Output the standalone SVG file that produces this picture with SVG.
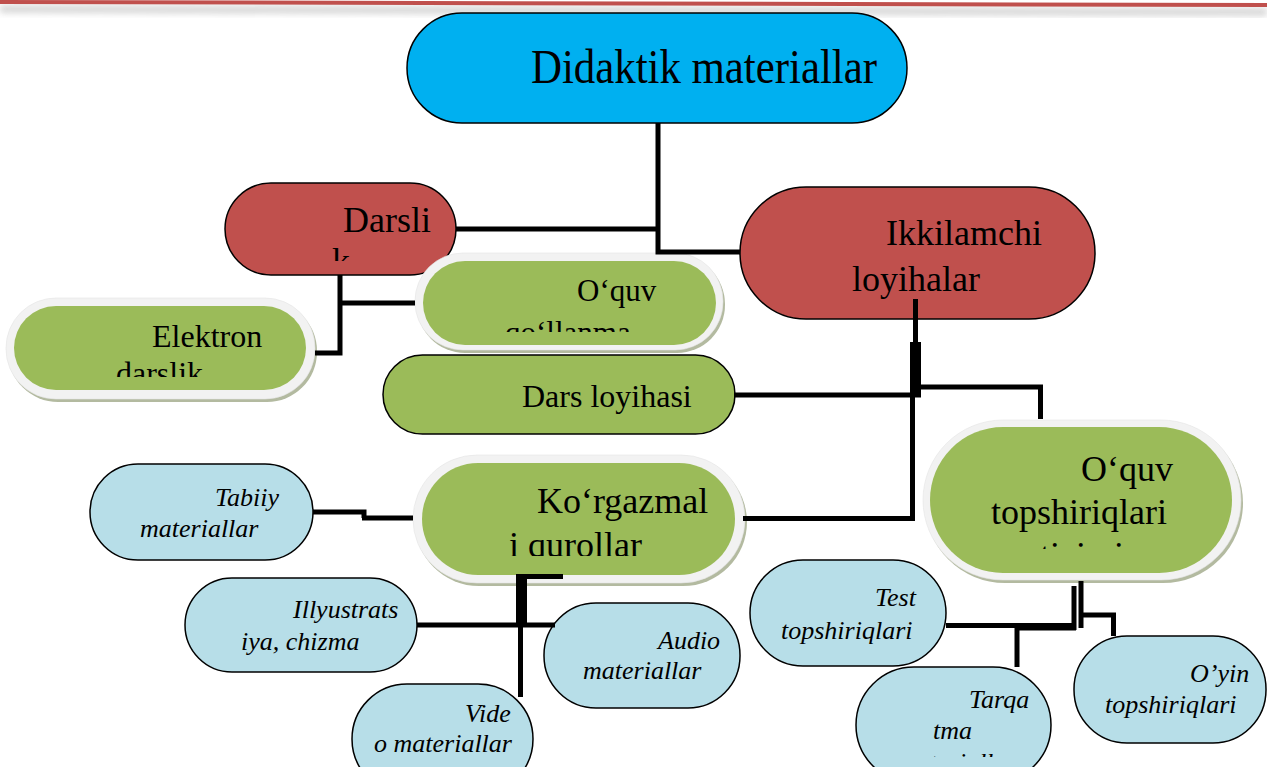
<svg xmlns="http://www.w3.org/2000/svg" width="1267" height="767" viewBox="0 0 1267 767">
<defs>
<style>
.t{font-family:"Liberation Serif","Times New Roman",serif;fill:#000}
.n{font-size:36px}
.i{font-size:26px;font-style:italic}
.plain{stroke:#000;stroke-width:1.5}
.blue{fill:#B7DEE8}
.red{fill:#C0504D}
.green{fill:#9BBB59}
.sh{fill:#B3BAA0}
.ring{fill:#F2F2F2;stroke:#E4E4E4;stroke-width:0.6}
.c{fill:none;stroke:#000;stroke-width:5;stroke-linejoin:miter}
</style>
<filter id="blur" x="-5%" y="-200%" width="110%" height="500%"><feGaussianBlur stdDeviation="3"/></filter>
<clipPath id="cDars"><rect x="225" y="183" width="231" height="78"/></clipPath>
<clipPath id="cElek"><rect x="6" y="298" width="309" height="79"/></clipPath>
<clipPath id="cQoll"><rect x="415" y="253" width="308" height="79"/></clipPath>
<clipPath id="cKorg"><rect x="413" y="455" width="332" height="101"/></clipPath>
<clipPath id="cTops"><rect x="923" y="420" width="318" height="129"/></clipPath>
<clipPath id="cTarq"><rect x="856" y="667" width="195" height="90"/></clipPath>
</defs>

<g id="topline">
<path d="M0,9 L1267,12" stroke="#BDBDBD" stroke-width="8" opacity="0.6" filter="url(#blur)"/>
<path d="M0,2 L1267,5" stroke="#C0504D" stroke-width="4"/>
</g>

<g id="node-didaktik">
<rect x="407" y="13" width="500" height="110" rx="55" fill="#00B0F0" class="plain"/>
<text class="t" x="531" y="83" font-size="48" textLength="346" lengthAdjust="spacingAndGlyphs">Didaktik materiallar</text>
</g>

<g id="node-darslik">
<rect x="225" y="183" width="231" height="92" rx="46" class="red plain"/>
<g clip-path="url(#cDars)">
<text class="t n" x="343" y="232">Darsli</text>
<text class="t n" x="332" y="273">k</text>
</g>
</g>

<g id="node-ikkilamchi">
<rect x="740" y="187" width="355" height="132" rx="66" class="red plain"/>
<text class="t n" x="886" y="245">Ikkilamchi</text>
<text class="t n" x="852" y="291">loyihalar</text>
</g>

<g id="node-elektron">
<rect x="8" y="301" width="309" height="101" rx="50" class="sh"/>
<rect x="6" y="298" width="309" height="101" rx="50" class="ring"/>
<rect x="14" y="306" width="292" height="84" rx="42" class="green"/>
<g clip-path="url(#cElek)">
<text class="t" font-size="32" x="152" y="347">Elektron</text>
<text class="t" font-size="32" x="116" y="384">darslik</text>
</g>
</g>

<g id="node-qollanma">
<rect x="417" y="256" width="308" height="97" rx="48" class="sh"/>
<rect x="415" y="253" width="308" height="97" rx="48" class="ring"/>
<rect x="423" y="261" width="293" height="84" rx="42" class="green"/>
<g clip-path="url(#cQoll)">
<text class="t" font-size="31" x="577" y="301">O‘quv</text>
<text class="t" font-size="31" x="505" y="343">qo‘llanma</text>
</g>
</g>

<g id="node-darsloyihasi">
<rect x="383" y="355" width="352" height="79" rx="39.5" class="green plain"/>
<text class="t" font-size="32" x="522" y="407">Dars loyihasi</text>
</g>

<g id="node-korgazmali">
<rect x="415" y="458" width="332" height="128" rx="64" class="sh"/>
<rect x="413" y="455" width="332" height="128" rx="64" class="ring"/>
<rect x="422" y="463" width="313" height="112" rx="56" class="green"/>
<g clip-path="url(#cKorg)">
<text class="t n" x="537" y="513">Ko‘rgazmal</text>
<text class="t n" x="509" y="557">i qurollar</text>
</g>
</g>

<g id="node-topshiriqlari">
<rect x="925" y="423" width="318" height="160" rx="80" class="sh"/>
<rect x="923" y="420" width="318" height="160" rx="80" class="ring"/>
<rect x="930" y="427" width="302" height="146" rx="73" class="green"/>
<g clip-path="url(#cTops)">
<text class="t n" x="1081" y="481">O‘quv</text>
<text class="t n" x="991" y="524">topshiriqlari</text>
<text class="t n" x="1040" y="567">tizimi</text>
</g>
</g>

<g id="node-tabiiy">
<rect x="90" y="464" width="223" height="96" rx="48" class="blue plain"/>
<text class="t i" x="215" y="506">Tabiiy</text>
<text class="t i" x="140" y="537">materiallar</text>
</g>

<g id="node-illyustratsiya">
<rect x="185" y="578" width="232" height="94" rx="47" class="blue plain"/>
<text class="t i" x="293" y="618">Illyustrats</text>
<text class="t i" x="241" y="650">iya, chizma</text>
</g>

<g id="node-video">
<rect x="352" y="684" width="181" height="110" rx="55" class="blue plain"/>
<text class="t i" x="465" y="722">Vide</text>
<text class="t i" x="374" y="752">o materiallar</text>
</g>

<g id="node-audio">
<rect x="544" y="603" width="196" height="105" rx="52" class="blue plain"/>
<text class="t i" x="658" y="649">Audio</text>
<text class="t i" x="583" y="679">materiallar</text>
</g>

<g id="node-test">
<rect x="750" y="560" width="196" height="106" rx="53" class="blue plain"/>
<text class="t i" x="875" y="606">Test</text>
<text class="t i" x="781" y="639">topshiriqlari</text>
</g>

<g id="node-tarqatma">
<rect x="856" y="667" width="195" height="116" rx="58" class="blue plain"/>
<g clip-path="url(#cTarq)">
<text class="t i" x="969" y="708">Tarqa</text>
<text class="t i" x="933" y="739">tma</text>
<text class="t i" x="898" y="771">materiallar</text>
</g>
</g>

<g id="node-oyin">
<rect x="1074" y="636" width="192" height="107" rx="53" class="blue plain"/>
<text class="t i" x="1190" y="682">O’yin</text>
<text class="t i" x="1105" y="713">topshiriqlari</text>
</g>

<g id="connectors">
<polyline class="c" stroke-width="6" points="658,123 658,252 740,252"/>
<polyline class="c" points="456,229 658,229"/>
<polyline class="c" points="340,275 340,353 315,353"/>
<polyline class="c" points="340,303 415,303"/>
<polyline class="c" points="915.5,299 915.5,342"/>
<rect x="910" y="342" width="11" height="55" fill="#000"/>
<polyline class="c" points="734,395 921,395"/>
<polyline class="c" points="918,387 1040.5,387 1040.5,419"/>
<polyline class="c" points="912.5,397 912.5,518.5 743,518.5"/>
<polyline class="c" stroke-width="4" points="313,512 364,512 364,518"/>
<polyline class="c" points="362,518 413,518"/>
<polyline class="c" points="516,576.5 563,576.5"/>
<rect x="516" y="576" width="11" height="47" fill="#000"/>
<polyline class="c" points="520.5,623 520.5,697"/>
<polyline class="c" stroke-width="6" points="417,625 555,625"/>
<polyline class="c" points="946,625.5 1076,625.5"/>
<polyline class="c" points="1017,628 1076,628"/>
<polyline class="c" points="1017,628 1017,667"/>
<polyline class="c" stroke-width="4" points="1074,586 1074,630"/>
<polyline class="c" stroke-width="4" points="1081,581 1081,628"/>
<polyline class="c" points="1081,615 1113.5,615 1113.5,636"/>
</g>
</svg>
